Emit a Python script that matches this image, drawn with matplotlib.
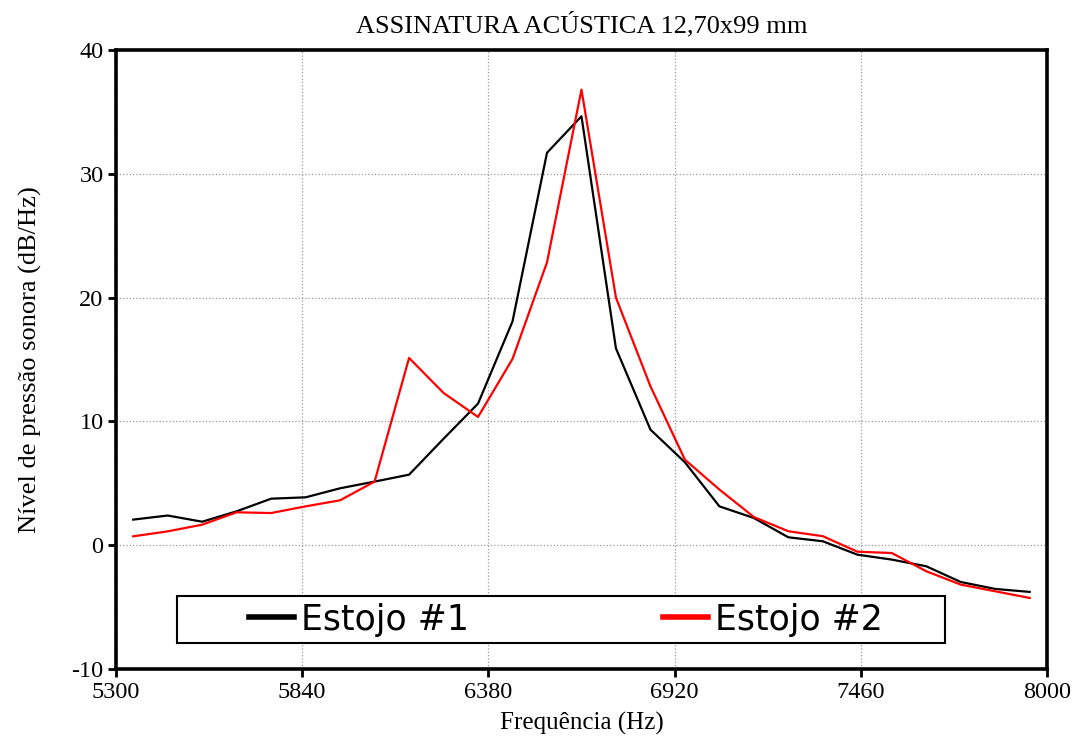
import matplotlib
matplotlib.use("Agg")
import matplotlib.pyplot as plt
from matplotlib.patches import Rectangle

# Frequency axis (Hz) and sound pressure level for the two cases
freq = [5350, 5450, 5550, 5650, 5750, 5850, 5950, 6050, 6150, 6250,
        6350, 6450, 6550, 6650, 6750, 6850, 6950, 7050, 7150, 7250,
        7350, 7450, 7550, 7650, 7750, 7850, 7950]
estojo1 = [2.07, 2.4, 1.9, 2.74, 3.76, 3.87, 4.6, 5.14, 5.7, 8.6,
           11.44, 18.08, 31.7, 34.65, 15.9, 9.34, 6.7, 3.14, 2.2, 0.64,
           0.32, -0.76, -1.16, -1.7, -2.97, -3.53, -3.77]
estojo2 = [0.72, 1.12, 1.66, 2.66, 2.6, 3.14, 3.63, 5.14, 15.13, 12.3,
           10.36, 15.05, 22.85, 36.8, 20.0, 12.84, 6.91, 4.5, 2.28, 1.13,
           0.73, -0.52, -0.63, -2.1, -3.18, -3.72, -4.26]
series_labels = ["Estojo #1", "Estojo #2"]
xticks = [5300, 5840, 6380, 6920, 7460, 8000]
yticks = [-10, 0, 10, 20, 30, 40]

plt.rcParams["axes.unicode_minus"] = False
serif = ["Liberation Serif", "DejaVu Serif"]

fig = plt.figure(figsize=(10.8, 7.4), dpi=100)
ax = fig.add_axes([0.1074, 0.0959, 0.8620, 0.8365])

ax.plot(freq, estojo1, color="black", lw=1.6, label=series_labels[0])
ax.plot(freq, estojo2, color="#ff0000", lw=1.6, label=series_labels[1])

ax.set_xlim(5300, 8000)
ax.set_ylim(-10, 40)
ax.set_xticks(xticks)
ax.set_yticks(yticks)
ax.grid(True, color="#999999", linestyle=":", linewidth=0.9)

for s in ax.spines.values():
    s.set_linewidth(2.6)
ax.tick_params(direction="out", length=6, width=2, pad=3)
for lbl in ax.get_xticklabels() + ax.get_yticklabels():
    lbl.set_fontfamily(serif)
    lbl.set_fontsize(17.5)

ax.set_title("ASSINATURA ACÚSTICA 12,70x99 mm", fontfamily=serif,
             fontsize=19, pad=13)
ax.set_xlabel("Frequência (Hz)", fontfamily=serif, fontsize=18, labelpad=7)
ax.set_ylabel("Nível de pressão sonora (dB/Hz)", fontfamily=serif,
              fontsize=19, labelpad=21)

# legend box drawn as a plain rectangle, entries spread across it
ax.add_patch(Rectangle((0.0655, 0.042), 0.8245, 0.076, transform=ax.transAxes,
                       facecolor="white", edgecolor="black", linewidth=1.5,
                       zorder=4))
leg = ax.legend(loc="center", bbox_to_anchor=(0.4834, 0.080), ncol=2,
                frameon=False, borderaxespad=0, handlelength=1.3,
                handletextpad=0.2, columnspacing=5.6, borderpad=0,
                prop={"family": "DejaVu Sans", "size": 25})
leg.set_zorder(5)
for h in leg.get_lines():
    h.set_linewidth(4)

fig.savefig("out.png", dpi=100)
